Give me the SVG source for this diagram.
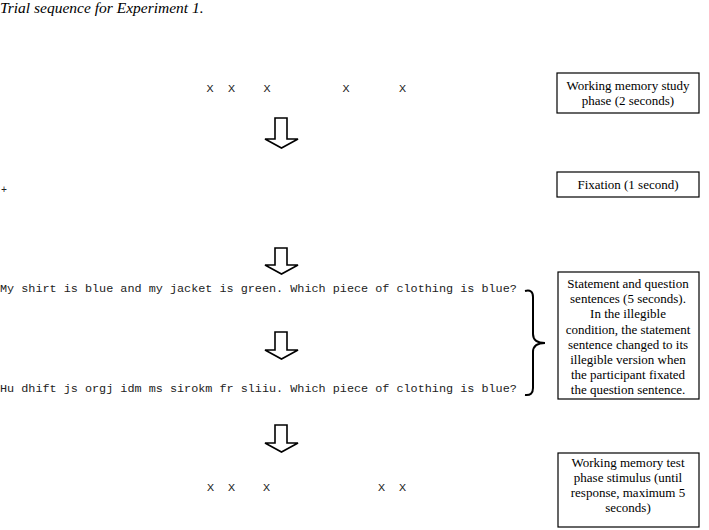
<svg xmlns="http://www.w3.org/2000/svg" width="709" height="530" viewBox="0 0 709 530">
<style>
.title{font-family:"Liberation Serif","Times New Roman",serif;font-style:italic;font-size:15.5px;fill:#000}
.mono{font-family:"Liberation Mono","Courier New",monospace;font-size:11.8px;fill:#222}
.lbl{font-family:"Liberation Serif","Times New Roman",serif;font-size:13px;fill:#000;text-anchor:middle}
.box{fill:#fff;stroke:#000;stroke-width:1.2}
.arrow{fill:#fff;stroke:#000;stroke-width:1.6;stroke-linejoin:miter}
.brace{fill:none;stroke:#000;stroke-width:2}
</style>
<rect width="709" height="530" fill="#fff"/>
<text class="title" x="0" y="13">Trial sequence for Experiment 1.</text>

<g id="study-stimulus">
<text class="mono" x="210" y="92" text-anchor="middle">X</text>
<text class="mono" x="231.5" y="92" text-anchor="middle">X</text>
<text class="mono" x="267" y="92" text-anchor="middle">X</text>
<text class="mono" x="346" y="92" text-anchor="middle">X</text>
<text class="mono" x="402.5" y="92" text-anchor="middle">X</text>
</g>
<g id="fixation-stimulus">
<text class="mono" x="4" y="193" text-anchor="middle" style="font-size:10px">+</text>
</g>
<g id="statement-stimulus">
<text class="mono" x="0" y="292">My shirt is blue and my jacket is green. Which piece of clothing is blue?</text>
</g>
<g id="illegible-stimulus">
<text class="mono" x="0" y="392">Hu dhift js orgj idm ms sirokm fr sliiu. Which piece of clothing is blue?</text>
</g>
<g id="test-stimulus">
<text class="mono" x="210.5" y="491" text-anchor="middle">X</text>
<text class="mono" x="231.5" y="491" text-anchor="middle">X</text>
<text class="mono" x="266.5" y="491" text-anchor="middle">X</text>
<text class="mono" x="381.5" y="491" text-anchor="middle">X</text>
<text class="mono" x="402.5" y="491" text-anchor="middle">X</text>
</g>

<g id="connectors">
<path class="arrow" d="M275,118 H287 V139 H298 L281.5,148 L265,139 H275 Z"/>
<path class="arrow" d="M275,248 H287 V265 H298 L281.5,274 L265,265 H275 Z"/>
<path class="arrow" d="M275,332 H287 V350 H298 L281.5,359 L265,350 H275 Z"/>
<path class="arrow" d="M275,425 H287 V443 H298 L281.5,452 L265,443 H275 Z"/>
<path class="brace" d="M525,291 Q533,289 533,297 V334 Q533,343 545,343 Q533,343 533,352 V388 Q533,396 525,395"/>
</g>

<g id="label-study">
<rect class="box" x="557" y="73" width="142" height="40"/>
<text class="lbl" x="628" y="90">Working memory study</text>
<text class="lbl" x="628" y="105">phase (2 seconds)</text>
</g>
<g id="label-fixation">
<rect class="box" x="557" y="172" width="142" height="25"/>
<text class="lbl" x="628" y="189">Fixation (1 second)</text>
</g>
<g id="label-sentences">
<rect class="box" x="558" y="272" width="141" height="127"/>
<text class="lbl" x="628" y="288">Statement and question</text>
<text class="lbl" x="628" y="303">sentences (5 seconds).</text>
<text class="lbl" x="628" y="318">In the illegible</text>
<text class="lbl" x="628" y="333.5">condition, the statement</text>
<text class="lbl" x="628" y="348.5">sentence changed to its</text>
<text class="lbl" x="628" y="364">illegible version when</text>
<text class="lbl" x="628" y="379">the participant fixated</text>
<text class="lbl" x="628" y="394">the question sentence.</text>
</g>
<g id="label-test">
<rect class="box" x="558" y="453" width="141" height="74"/>
<text class="lbl" x="628" y="467">Working memory test</text>
<text class="lbl" x="628" y="482">phase stimulus (until</text>
<text class="lbl" x="628" y="497">response, maximum 5</text>
<text class="lbl" x="628" y="512">seconds)</text>
</g>
</svg>
